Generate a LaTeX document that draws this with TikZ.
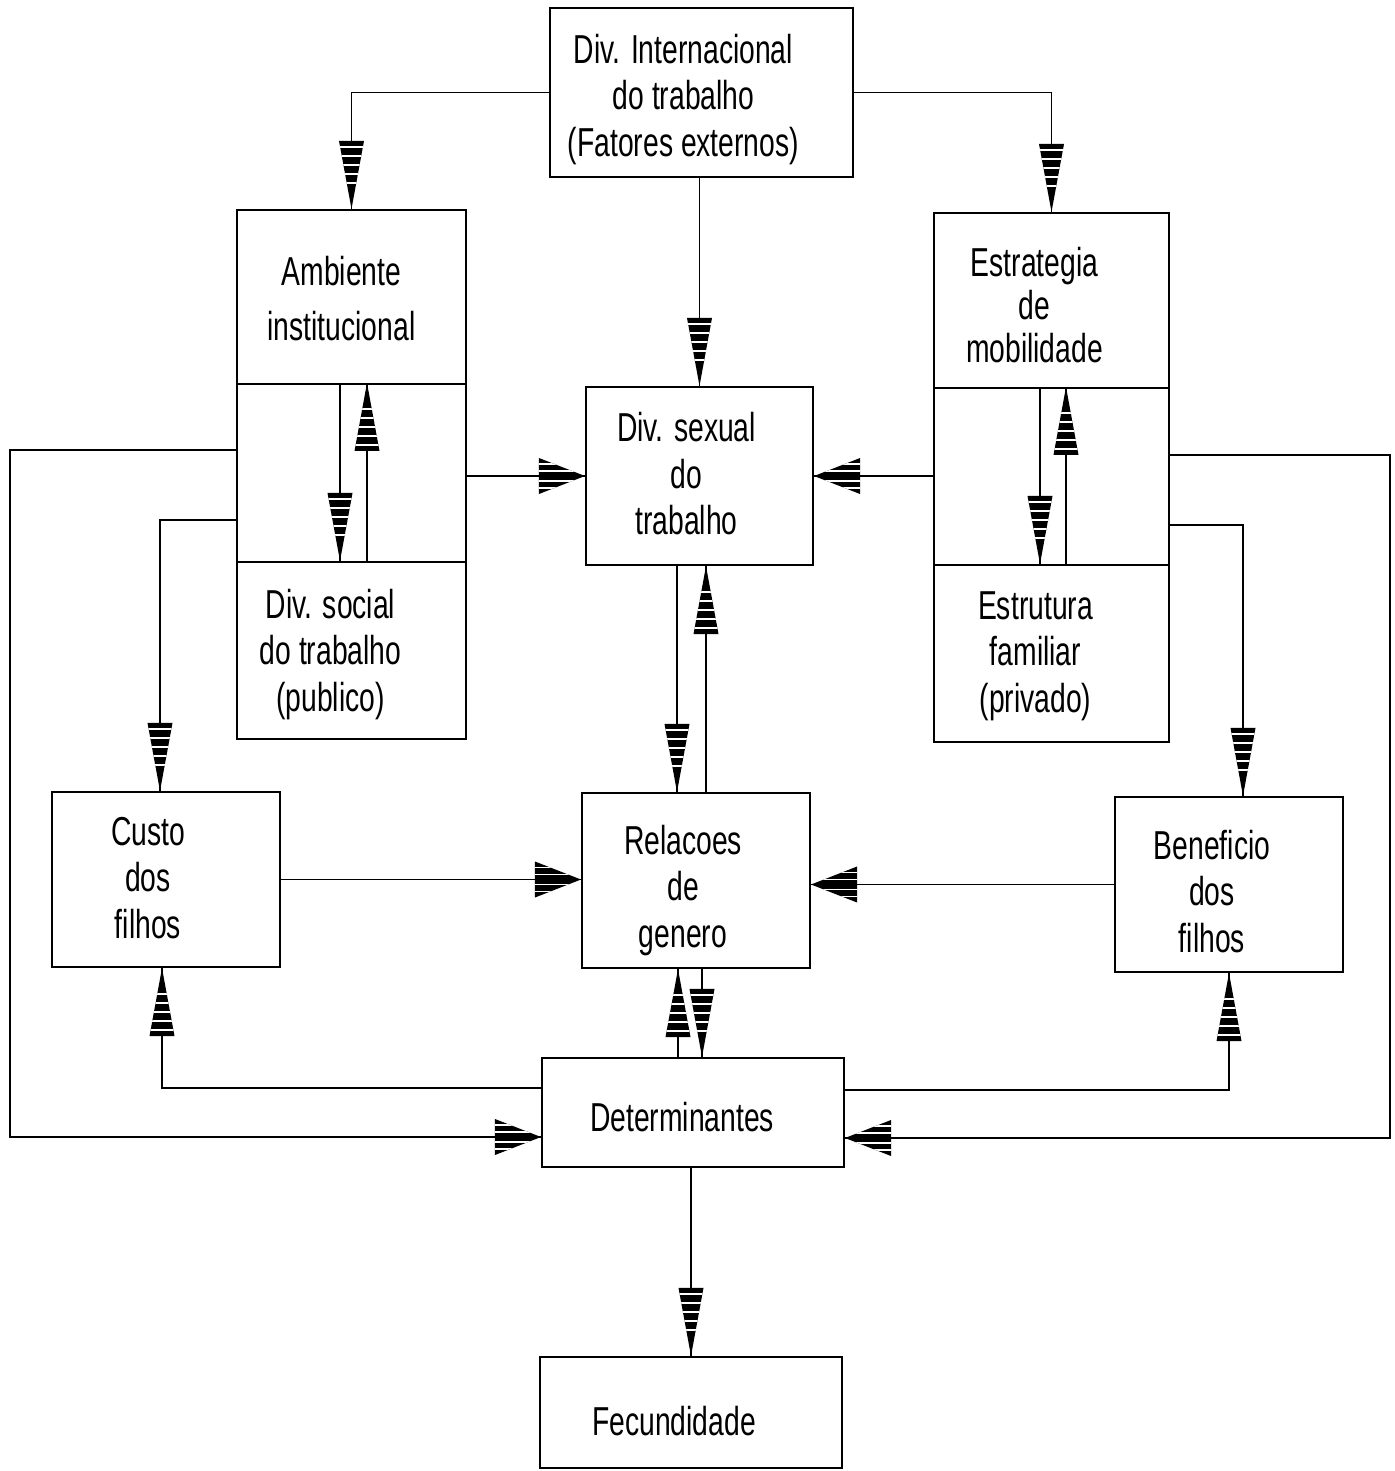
\documentclass[tikz,border=0pt]{standalone}
\usepackage{fontspec}
\setmainfont{Liberation Sans}[FakeStretch=0.70]
\usetikzlibrary{decorations.markings}
\newcommand\vhead{%
  \fill (0,0)--(-68,12.5)--(-68,-12.5)--cycle;
  \begin{scope}
    \clip (0,0)--(-68,12.5)--(-68,-12.5)--cycle;
    \foreach \d in {62,53,44,35,26} \draw[white,line width=1pt] (-\d,-14)--(-\d,14);
  \end{scope}}
\newcommand\hhead{%
  \fill (0,0)--(-46,18)--(-46,-18)--cycle;
  \begin{scope}
    \clip (0,0)--(-46,18)--(-46,-18)--cycle;
    \foreach \d in {-12,-5,5,12} \draw[white,line width=1pt] (-48,\d)--(-8,\d);
  \end{scope}}
% #1 = extra right padding (moves text left by half), #2 = downward shift, #3 = text
\newcommand\tx[3]{\raisebox{-#2}[\height][\depth]{\begin{tabular}{@{}c@{}}#3\end{tabular}}\hspace*{#1}}
\tikzset{
  box/.style={draw, line width=1.2pt, inner sep=0pt, font=\fontsize{23}{26.5}\selectfont},
  con/.style={line width=1pt},
  varr/.style={con, postaction={decorate}, decoration={markings, mark=at position 1 with {\vhead}}},
  harr/.style={con, postaction={decorate}, decoration={markings, mark=at position 1 with {\hhead}}},
}
\begin{document}
\begin{tikzpicture}[x=0.02cm, y=-0.02cm]
\fill[white] (0,0) rectangle (1395,1471);
\useasboundingbox (0,0) rectangle (1395,1471);

\node[box, minimum width=6.06cm, minimum height=3.38cm] (intl) at (701.5,92.5) {\tx{0.72cm}{0.16cm}{Div. Internacional\\do trabalho\\(Fatores externos)}};

\node[box, minimum width=4.58cm, minimum height=3.48cm] (amb) at (351.5,297) {\tx{0.4cm}{0.14cm}{Ambiente\\[5pt]institucional}};
\node[box, minimum width=4.58cm, minimum height=3.56cm] (midL) at (351.5,473) {};
\node[box, minimum width=4.58cm, minimum height=3.54cm] (soc) at (351.5,650.5) {\tx{0.84cm}{0.1cm}{Div. social\\do trabalho\\(publico)}};

\node[box, minimum width=4.7cm, minimum height=3.5cm] (estr) at (1051.5,300.5) {\tx{0.68cm}{0.2cm}{Estrategia\\[-2pt]de\\[-2pt]mobilidade}};
\node[box, minimum width=4.7cm, minimum height=3.54cm] (midR) at (1051.5,476.5) {};
\node[box, minimum width=4.7cm, minimum height=3.54cm] (fam) at (1051.5,653.5) {\tx{0.64cm}{0.06cm}{Estrutura\\familiar\\(privado)}};

\node[box, minimum width=4.54cm, minimum height=3.56cm] (sex) at (699.5,476) {\tx{0.52cm}{0.06cm}{Div. sexual\\do\\trabalho}};

\node[box, minimum width=4.56cm, minimum height=3.5cm] (custo) at (166,879.5) {\tx{0.72cm}{0.06cm}{Custo\\dos\\filhos}};
\node[box, minimum width=4.56cm, minimum height=3.5cm] (rel) at (696,880.5) {\tx{0.52cm}{0.22cm}{Relacoes\\de\\genero}};
\node[box, minimum width=4.56cm, minimum height=3.5cm] (ben) at (1229,884.5) {\tx{0.68cm}{0.24cm}{Beneficio\\dos\\filhos}};

\node[box, minimum width=6.04cm, minimum height=2.18cm] (det) at (693,1112.5) {\tx{0.44cm}{0.2cm}{Determinantes}};
\node[box, minimum width=6.04cm, minimum height=2.22cm] (fec) at (691,1412.5) {\tx{0.68cm}{0.28cm}{Fecundidade}};

% from Div. Internacional
\draw[varr] (intl.west) -| (amb.north);
\draw[varr] (intl.east) -| (estr.north);
\draw[varr] (sex.north |- intl.south) -- (sex.north);

% inside compound boxes
\draw[varr] ([xshift=-0.23cm]midL.north) -- ([xshift=-0.23cm]soc.north);
\draw[varr] ([xshift=0.31cm]soc.north) -- ([xshift=0.31cm]midL.north);
\draw[varr] ([xshift=-0.23cm]midR.north) -- ([xshift=-0.23cm]fam.north);
\draw[varr] ([xshift=0.29cm]fam.north) -- ([xshift=0.29cm]midR.north);

% to Div. sexual
\draw[harr] (midL.east |- sex.west) -- (sex.west);
\draw[harr] (midR.west |- sex.east) -- (sex.east);

% Div. sexual <-> Relacoes
\draw[varr] ([xshift=-0.45cm]sex.south) -- ([xshift=-0.45cm]sex.south |- rel.north);
\draw[varr] ([xshift=0.13cm]sex.south |- rel.north) -- ([xshift=0.13cm]sex.south);

% outer loops
\draw[harr] ([yshift=0.46cm]midL.west) -| (10,1137) -- ([yshift=-0.49cm]det.west);
\draw[varr] ([yshift=-0.94cm]midL.west) -| ([xshift=-0.12cm]custo.north);
\draw[harr] ([yshift=0.43cm]midR.east) -| (1390,1138) -- ([yshift=-0.51cm]det.east);
\draw[varr] ([yshift=-0.97cm]midR.east) -| ([xshift=0.28cm]ben.north);

% to Relacoes
\draw[harr] (custo.east) -- (custo.east -| rel.west);
\draw[harr] (ben.west) -- (ben.west -| rel.east);

% Relacoes <-> Determinantes
\draw[varr] ([xshift=-0.3cm]det.north) -- ([xshift=-0.3cm]det.north |- rel.south);
\draw[varr] ([xshift=0.18cm]det.north |- rel.south) -- ([xshift=0.18cm]det.north);

% Determinantes -> Custo, Beneficio, Fecundidade
\draw[varr] ([yshift=0.49cm]det.west) -| ([xshift=-0.08cm]custo.south);
\draw[varr] ([yshift=0.45cm]det.east) -| (ben.south);
\draw[varr] (fec.north |- det.south) -- (fec.north);
\end{tikzpicture}
\end{document}
